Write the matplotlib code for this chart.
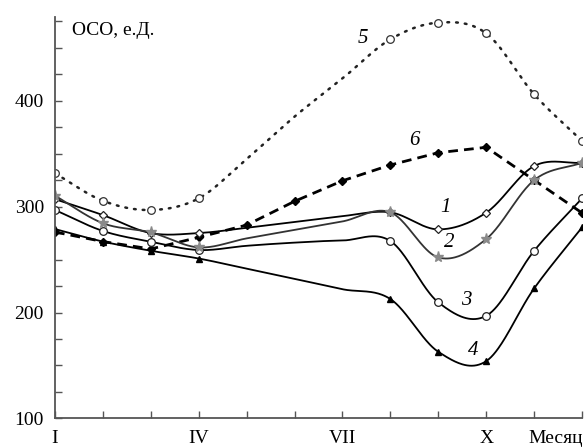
import numpy as np
import matplotlib
matplotlib.use('Agg')
import matplotlib.pyplot as plt

plt.rcParams['font.family'] = ['Liberation Serif', 'DejaVu Serif']

# months I..XII
months = np.arange(1, 13)

# values (months 5-7 of curves 1-5 have no markers)
s1 = [307, 292, 275, 275, 280, 285.5, 291, 294.6, 278.5, 294.3, 338.3, 341.4]
s2 = [310.3, 284.3, 275.7, 261.5, 270, 278, 286, 294.6, 252, 269.4, 325, 341.4]
s3 = [296.8, 277, 266.8, 259, 263, 266, 268, 267.5, 209.6, 196.9, 258.3, 307.8]
s4 = [278.8, 267, 258.3, 251, 241.4, 231.8, 222, 212.7, 162.9, 154.1, 222.8, 280.4]
s5 = [331.4, 305.5, 296.8, 307.8, 345, 385, 421, 458, 473.7, 463.6, 406, 362]
s6 = [276, 267, 260, 271, 282.6, 305, 324.4, 339.3, 350.9, 356, 325, 294]

marked = [0, 1, 2, 3, 7, 8, 9, 10, 11]   # points that carry a marker

tick_labels = ['I', '', '', 'IV', '', '', 'VII', '', '', 'X', '', '']
x_title = 'Месяц'
y_title = 'ОСО, е.Д.'


def smooth(x, y, per=40):
    # Catmull-Rom style cubic Hermite through the points
    x = np.asarray(x, float)
    y = np.asarray(y, float)
    k = len(x)
    m = np.zeros(k)
    m[1:-1] = (y[2:] - y[:-2]) / (x[2:] - x[:-2])
    m[0] = (y[1] - y[0]) / (x[1] - x[0])
    m[-1] = (y[-1] - y[-2]) / (x[-1] - x[-2])
    xs_all, ys_all = [], []
    for i in range(k - 1):
        h = x[i + 1] - x[i]
        t = np.linspace(0, 1, per, endpoint=(i == k - 2))
        h00 = 2 * t**3 - 3 * t**2 + 1
        h10 = t**3 - 2 * t**2 + t
        h01 = -2 * t**3 + 3 * t**2
        h11 = t**3 - t**2
        xs_all.append(x[i] + t * h)
        ys_all.append(h00 * y[i] + h10 * h * m[i] + h01 * y[i + 1] + h11 * h * m[i + 1])
    return np.concatenate(xs_all), np.concatenate(ys_all)


fig = plt.figure(figsize=(5.85, 4.48), dpi=100)
ax = fig.add_axes([0.094, 0.066, 0.901, 0.896])

mx = months[marked]

# 5 - dotted, open circles
xs, ys = smooth(months, s5)
ax.plot(xs, ys, color='#222', lw=1.8, ls=(0, (0.7, 2.8)), dash_capstyle='round')
ax.plot(mx, np.array(s5)[marked], 'o', ms=5.5, mfc='white', mec='#333', mew=0.9)

# 6 - dashed, black diamonds
ax.plot(months, s6, color='black', lw=2.0, ls=(0, (3.5, 2.2)))
ax.plot(months, s6, 'D', ms=4.5, color='black')

# 4 - black triangles
xs, ys = smooth(months, s4)
ax.plot(xs, ys, color='black', lw=1.3)
ax.plot(mx, np.array(s4)[marked], '^', ms=5, color='black')

# 3 - open circles
xs, ys = smooth(months, s3)
ax.plot(xs, ys, color='black', lw=1.3)
ax.plot(mx, np.array(s3)[marked], 'o', ms=5.5, mfc='white', mec='#222', mew=0.9)

# 1 - open diamonds
xs, ys = smooth(months, s1)
ax.plot(xs, ys, color='black', lw=1.3)
ax.plot(mx, np.array(s1)[marked], 'D', ms=4.5, mfc='white', mec='#222', mew=0.9)

# 2 - grey asterisks
xs, ys = smooth(months, s2)
ax.plot(xs, ys, color='#333', lw=1.3)
ax.plot(mx, np.array(s2)[marked], '*', ms=8, color='#8a8a8a', mec='#8a8a8a')

# curve numbers
num_style = dict(fontsize=15, style='italic', ha='center', va='center')
ax.text(9.16, 299, '1', **num_style)
ax.text(9.23, 266, '2', **num_style)
ax.text(9.58, 211, '3', **num_style)
ax.text(9.72, 164, '4', **num_style)
ax.text(7.42, 459, '5', **num_style)
ax.text(8.51, 362, '6', **num_style)

ax.text(1.36, 466, y_title, fontsize=14, ha='left', va='center')

ax.set_xlim(1, 12)
ax.set_ylim(100, 479)

ax.set_xticks(months)
ax.set_xticklabels(tick_labels, fontsize=14)
ax.set_xticks([11.45], minor=True)
ax.set_xticklabels([x_title], minor=True, fontsize=14)
ax.tick_params(axis='x', which='minor', length=0, pad=8)

ax.set_yticks(np.arange(100, 476, 25))
ax.set_yticklabels([str(v) if v % 100 == 0 else '' for v in range(100, 476, 25)],
                   fontsize=14)
ax.tick_params(axis='both', which='major', direction='in', length=5,
               width=1.0, color='#555', pad=8)

for side in ['top', 'right']:
    ax.spines[side].set_visible(False)
for side in ['left', 'bottom']:
    ax.spines[side].set_color('#555')
    ax.spines[side].set_linewidth(1.3)

fig.savefig('out.png', dpi=100)
